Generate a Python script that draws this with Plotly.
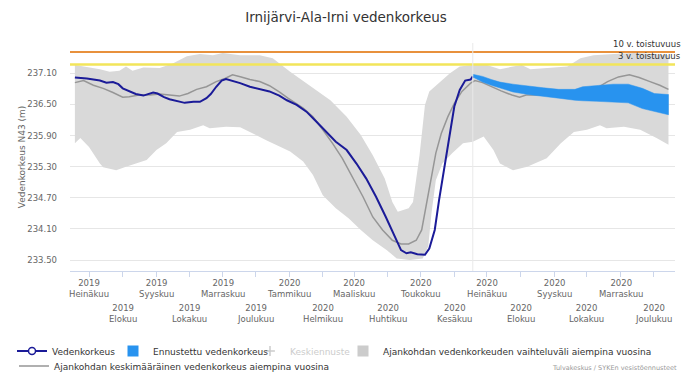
import plotly.graph_objects as go

# ---------------- data ----------------
title_text = "Irnijärvi-Ala-Irni vedenkorkeus"
y_title = "Vedenkorkeus N43 (m)"
credit_text = "Tulvakeskus / SYKEn vesistöennusteet"

obs_dates = [
    "2019-06-18", "2019-06-29", "2019-07-11", "2019-07-17", "2019-07-23", "2019-07-28",
    "2019-08-01", "2019-08-07", "2019-08-13", "2019-08-20", "2019-08-24", "2019-08-29",
    "2019-09-02", "2019-09-08", "2019-09-13", "2019-09-19", "2019-09-27", "2019-10-05",
    "2019-10-11", "2019-10-17", "2019-10-21", "2019-10-26", "2019-10-31", "2019-11-04",
    "2019-11-09", "2019-11-17", "2019-11-26", "2019-12-05", "2019-12-14", "2019-12-23",
    "2019-12-30", "2020-01-08", "2020-01-17", "2020-01-26", "2020-02-04", "2020-02-13",
    "2020-02-23", "2020-03-03", "2020-03-12", "2020-03-21", "2020-03-30", "2020-04-07",
    "2020-04-13", "2020-04-18", "2020-04-22", "2020-04-28", "2020-05-05", "2020-05-09",
    "2020-05-14", "2020-05-18", "2020-05-23", "2020-05-28", "2020-06-01", "2020-06-06",
    "2020-06-11", "2020-06-16", "2020-06-18",
]
obs_level = [
    237.02, 237.00, 236.96, 236.92, 236.93, 236.89,
    236.81, 236.75, 236.70, 236.67, 236.70, 236.73,
    236.71, 236.64, 236.60, 236.57, 236.53, 236.55,
    236.55, 236.62, 236.70, 236.84, 236.96, 236.99,
    236.96, 236.91, 236.84, 236.80, 236.75, 236.67,
    236.58, 236.49, 236.36, 236.17, 235.97, 235.78,
    235.62, 235.36, 235.07, 234.72, 234.33, 233.95,
    233.69, 233.63, 233.65, 233.61, 233.60, 233.72,
    234.08, 234.66, 235.30, 235.94, 236.46, 236.78,
    236.96, 236.98, 237.04,
]

mean_dates = [
    "2019-06-18", "2019-06-26", "2019-07-05", "2019-07-14", "2019-07-23", "2019-08-01",
    "2019-08-07", "2019-08-16", "2019-08-26", "2019-09-04", "2019-09-13", "2019-09-22",
    "2019-09-30", "2019-10-08", "2019-10-17", "2019-10-26", "2019-11-03", "2019-11-10",
    "2019-11-18", "2019-11-26", "2019-12-05", "2019-12-14", "2019-12-23", "2019-12-31",
    "2020-01-14", "2020-01-23", "2020-02-01", "2020-02-10", "2020-02-19", "2020-02-28",
    "2020-03-09", "2020-03-18", "2020-03-27", "2020-04-05", "2020-04-13", "2020-04-20",
    "2020-04-27", "2020-05-02", "2020-05-06", "2020-05-11", "2020-05-15", "2020-05-20",
    "2020-05-26", "2020-06-01", "2020-06-08", "2020-06-16", "2020-06-20", "2020-06-27",
    "2020-07-05", "2020-07-14", "2020-07-24", "2020-07-31", "2020-08-06", "2020-08-16",
    "2020-08-26", "2020-09-04", "2020-09-13", "2020-09-22", "2020-09-30", "2020-10-08",
    "2020-10-20", "2020-10-30", "2020-11-09", "2020-11-18", "2020-11-28", "2020-12-07",
    "2020-12-15",
]
mean_level = [
    236.92, 236.96, 236.87, 236.81, 236.73, 236.64,
    236.65, 236.68, 236.68, 236.70, 236.68, 236.66,
    236.71, 236.79, 236.84, 236.94, 237.00, 237.07,
    237.03, 236.98, 236.94, 236.86, 236.74, 236.62,
    236.43, 236.26, 236.01, 235.75, 235.46, 235.11,
    234.72, 234.33, 234.08, 233.88, 233.81, 233.81,
    233.88, 234.08, 234.53, 235.04, 235.56, 235.94,
    236.26, 236.52, 236.75, 236.91, 236.96, 236.92,
    236.84, 236.76, 236.68, 236.64, 236.68, 236.68,
    236.68, 236.70, 236.68, 236.66, 236.71, 236.79,
    236.94, 237.03, 237.07, 237.02, 236.94, 236.87,
    236.79,
]

range_upper_dates = [
    "2019-06-18", "2019-06-29", "2019-07-11", "2019-07-20", "2019-07-29", "2019-08-04",
    "2019-08-10", "2019-08-20", "2019-09-04", "2019-09-16", "2019-09-29", "2019-10-11",
    "2019-10-23", "2019-11-01", "2019-11-17", "2019-12-05", "2019-12-17", "2020-01-02",
    "2020-01-20", "2020-02-08", "2020-02-23", "2020-03-07", "2020-03-18", "2020-03-29",
    "2020-04-05", "2020-04-10", "2020-04-20", "2020-04-24", "2020-04-30", "2020-05-05",
    "2020-05-09", "2020-05-18", "2020-05-28", "2020-06-06", "2020-06-18", "2020-07-01",
    "2020-07-13", "2020-07-25", "2020-08-02", "2020-08-10", "2020-08-25", "2020-09-13",
    "2020-09-25", "2020-10-07", "2020-10-26", "2020-11-13", "2020-12-01", "2020-12-15",
]
range_upper = [
    237.26, 237.22, 237.18, 237.13, 237.15, 237.23,
    237.15, 237.21, 237.20, 237.29, 237.43, 237.47,
    237.45, 237.49, 237.45, 237.45, 237.39, 237.13,
    236.87, 236.58, 236.26, 235.91, 235.52, 235.07,
    234.62, 234.43, 234.50, 234.62, 235.52, 236.49,
    236.75, 236.91, 237.10, 237.23, 237.26, 237.26,
    237.18, 237.23, 237.26, 237.18, 237.20, 237.23,
    237.39, 237.45, 237.47, 237.49, 237.47, 237.45,
]

range_lower_dates = [
    "2019-06-18", "2019-06-23", "2019-07-01", "2019-07-11", "2019-07-14", "2019-07-26",
    "2019-08-04", "2019-08-23", "2019-09-01", "2019-09-10", "2019-09-20", "2019-10-02",
    "2019-10-14", "2019-10-20", "2019-11-04", "2019-11-17", "2019-11-29", "2019-12-11",
    "2020-01-02", "2020-01-14", "2020-01-23", "2020-02-01", "2020-02-13", "2020-02-25",
    "2020-03-07", "2020-03-18", "2020-03-31", "2020-04-09", "2020-04-21", "2020-05-03",
    "2020-05-08", "2020-05-11", "2020-05-15", "2020-05-21", "2020-05-30", "2020-06-09",
    "2020-06-18", "2020-06-28", "2020-07-07", "2020-07-13", "2020-07-25", "2020-08-07",
    "2020-08-25", "2020-09-07", "2020-09-19", "2020-10-01", "2020-10-13", "2020-10-19",
    "2020-11-04", "2020-11-19", "2020-12-04", "2020-12-15",
]
range_lower = [
    235.75, 235.85, 235.68, 235.36, 235.29, 235.23,
    235.30, 235.43, 235.62, 235.75, 235.97, 236.01,
    236.10, 236.04, 236.07, 236.06, 235.94, 235.81,
    235.59, 235.40, 235.14, 234.75, 234.50, 234.30,
    234.08, 233.88, 233.69, 233.53, 233.50, 233.53,
    233.76, 234.40, 235.04, 235.36, 235.56, 235.75,
    235.78, 235.88, 235.62, 235.36, 235.23, 235.30,
    235.46, 235.75, 235.97, 236.01, 236.10, 236.04,
    236.07, 236.01, 235.85, 235.72,
]

fc_dates = [
    "2020-06-18", "2020-06-27", "2020-07-05", "2020-07-13", "2020-07-25", "2020-08-08",
    "2020-08-22", "2020-09-05", "2020-09-20", "2020-09-27", "2020-10-10", "2020-10-25",
    "2020-11-08", "2020-11-21", "2020-12-02", "2020-12-15",
]
fc_upper = [
    237.08, 237.04, 236.98, 236.93, 236.89, 236.85,
    236.82, 236.79, 236.79, 236.84, 236.86, 236.89,
    236.89, 236.81, 236.71, 236.69,
]
fc_lower = [
    237.03, 236.93, 236.87, 236.81, 236.74, 236.69,
    236.65, 236.62, 236.58, 236.57, 236.56, 236.55,
    236.53, 236.42, 236.36, 236.30,
]

today = "2020-06-18"
threshold_values = [237.51, 237.27]
threshold_labels = ["10 v. toistuvuus", "3 v. toistuvuus"]

y_ticks = [233.50, 234.10, 234.70, 235.30, 235.90, 236.50, 237.10]
month_starts = [
    "2019-07-01", "2019-08-01", "2019-09-01", "2019-10-01", "2019-11-01", "2019-12-01",
    "2020-01-01", "2020-02-01", "2020-03-01", "2020-04-01", "2020-05-01", "2020-06-01",
    "2020-07-01", "2020-08-01", "2020-09-01", "2020-10-01", "2020-11-01", "2020-12-01",
]
tick_years = ["2019"] * 6 + ["2020"] * 12
tick_months = [
    "Heinäkuu", "Elokuu", "Syyskuu", "Lokakuu", "Marraskuu", "Joulukuu",
    "Tammikuu", "Helmikuu", "Maaliskuu", "Huhtikuu", "Toukokuu", "Kesäkuu",
    "Heinäkuu", "Elokuu", "Syyskuu", "Lokakuu", "Marraskuu", "Joulukuu",
]

legend_names = [
    "Vedenkorkeus",
    "Ennustettu vedenkorkeus",
    "Keskiennuste",
    "Ajankohdan vedenkorkeuden vaihteluväli aiempina vuosina",
    "Ajankohdan keskimääräinen vedenkorkeus aiempina vuosina",
]

# ---------------- styles ----------------
FONT = "DejaVu Sans"
C_OBS = "#1b1b98"
C_MEAN = "#969696"
C_RANGE = "#d9d9d9"
C_FC = "#2893ef"
C_THR = ["#e8913c", "#f2e55a"]
W_THR = [2, 2.6]
W, H = 692, 379
M_L, M_R, M_T, M_B = 70, 17, 43, 108
X_RANGE = ["2019-06-13 12:00", "2020-12-21"]
Y_RANGE = [233.288, 237.684]

fig = go.Figure()

# variability range (polygon)
fig.add_trace(go.Scatter(
    x=range_upper_dates + range_lower_dates[::-1],
    y=range_upper + range_lower[::-1],
    fill="toself", fillcolor=C_RANGE, mode="lines", line=dict(width=0, color=C_RANGE),
    hoverinfo="skip", showlegend=False,
))
# mean line
fig.add_trace(go.Scatter(
    x=mean_dates, y=mean_level, mode="lines",
    line=dict(color=C_MEAN, width=1.5), showlegend=False, hoverinfo="skip",
))
# forecast band
fig.add_trace(go.Scatter(
    x=fc_dates + fc_dates[::-1], y=fc_upper + fc_lower[::-1],
    fill="toself", fillcolor=C_FC, mode="lines", line=dict(width=0.5, color=C_FC),
    showlegend=False, hoverinfo="skip",
))
# observed
fig.add_trace(go.Scatter(
    x=obs_dates, y=obs_level, mode="lines",
    line=dict(color=C_OBS, width=2), showlegend=False,
))

# legend proxies, each in its own legend for exact placement
legend_pos = [(12, 351), (113, 351), (250, 351), (343, 351), (14, 366)]
proxies = [
    dict(mode="lines+markers", line=dict(color=C_OBS, width=2),
         marker=dict(symbol="circle", size=7, color="white", line=dict(color=C_OBS, width=1.5))),
    dict(mode="markers", marker=dict(symbol="square", size=11, color=C_FC)),
    dict(mode="markers", marker=dict(symbol="cross-thin", size=7, color="#999999",
                                     line=dict(color="#999999", width=1.5)),
         visible="legendonly"),
    dict(mode="markers", marker=dict(symbol="square", size=11, color="#cccccc")),
    dict(mode="lines", line=dict(color=C_MEAN, width=1.5)),
]
for i, (name, p) in enumerate(zip(legend_names, proxies)):
    lg = "legend" if i == 0 else f"legend{i + 1}"
    fig.add_trace(go.Scatter(x=[None], y=[None], name=name, legend=lg, showlegend=True, **p))

legend_layout = {}
for i, (lx, ly) in enumerate(legend_pos):
    key = "legend" if i == 0 else f"legend{i + 1}"
    legend_layout[key] = dict(
        xref="container", yref="container", x=lx / W, y=1 - ly / H,
        xanchor="left", yanchor="middle", orientation="h",
        bgcolor="rgba(0,0,0,0)", borderwidth=0,
        font=dict(family=FONT, size=9, color="#999999" if i == 2 else "#333333"),
        itemclick=False, itemdoubleclick=False,
    )

shapes = []
for v, c, w in zip(threshold_values, C_THR, W_THR):
    shapes.append(dict(type="line", xref="paper", x0=0, x1=1, yref="y", y0=v, y1=v,
                       line=dict(color=c, width=w), layer="above"))
shapes.append(dict(type="line", xref="x", x0=today, x1=today, yref="paper", y0=0, y1=1,
                   line=dict(color="#e9e9e9", width=1), layer="above"))

annotations = []
for v, t in zip(threshold_values, threshold_labels):
    annotations.append(dict(xref="paper", x=1, xanchor="right", xshift=8, yref="y", y=v,
                            yanchor="bottom", yshift=1, text=t, showarrow=False,
                            font=dict(family=FONT, size=8.5, color="#333333")))
for i, (d, yr, mo) in enumerate(zip(month_starts, tick_years, tick_months)):
    annotations.append(dict(xref="x", x=d, yref="paper", y=0, yanchor="top",
                            yshift=-5 if i % 2 == 0 else -30, text=f"{yr}<br>{mo}",
                            showarrow=False, align="center",
                            font=dict(family=FONT, size=8.5, color="#666666")))
annotations.append(dict(xref="paper", x=1, xanchor="right", xshift=4, yref="paper",
                        y=-(368 - (H - M_B)) / (H - M_T - M_B), yanchor="middle",
                        text=credit_text, showarrow=False,
                        font=dict(family=FONT, size=6.5, color="#999999")))

fig.update_layout(
    width=W, height=H,
    margin=dict(l=M_L, r=M_R, t=M_T, b=M_B),
    paper_bgcolor="white", plot_bgcolor="white",
    font=dict(family=FONT, color="#333333"),
    title=dict(text=title_text, x=0.5, xref="container", xanchor="center",
               y=1 - 17 / H, yref="container", yanchor="middle",
               font=dict(family=FONT, size=13.5, color="#333333")),
    xaxis=dict(range=X_RANGE, type="date", showgrid=False, zeroline=False,
               showline=True, linecolor="#ccd6eb", linewidth=1,
               tickmode="array", tickvals=month_starts, showticklabels=False,
               ticks="outside", ticklen=5, tickcolor="#ccd6eb"),
    yaxis=dict(range=Y_RANGE, tickmode="array", tickvals=y_ticks,
               ticktext=[f"{v:.2f}" for v in y_ticks],
               showgrid=True, gridcolor="#e6e6e6", gridwidth=1, zeroline=False,
               showline=False, ticks="", ticklabelstandoff=12,
               tickfont=dict(family=FONT, size=8.5, color="#666666"),
               title=dict(text=y_title, standoff=0,
                          font=dict(family=FONT, size=9, color="#666666"))),
    shapes=shapes, annotations=annotations,
    hovermode=False,
    **legend_layout,
)

fig.write_html("out.html", config={"displayModeBar": False},
               post_script="document.body.style.margin='0';document.body.style.overflow='hidden';")
